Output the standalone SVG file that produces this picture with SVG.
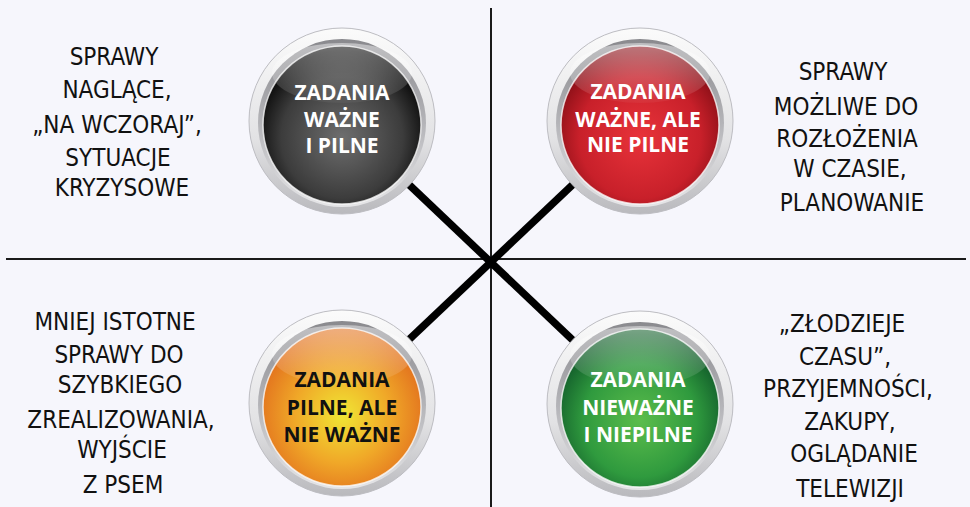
<svg xmlns="http://www.w3.org/2000/svg" width="970" height="507" viewBox="0 0 970 507">
<style>
.axis{stroke:#1a1a1a;stroke-width:2;fill:none}
.arm{stroke:#000;stroke-width:7.5;fill:none}
.ring{fill:url(#ringG);stroke:#bdbdc2;stroke-width:1}
.groove{fill:url(#grooveG)}
.rim{stroke:#ffffff;stroke-opacity:0.75;stroke-width:1.5}
.gloss{fill:url(#glossG)}
.btn{font-family:"Open Sans","DejaVu Sans",sans-serif;font-weight:700;font-size:21px;text-anchor:middle}
.w{fill:#ffffff}
.k{fill:#111111}
.hand{font-family:"DejaVu Sans Condensed","DejaVu Sans",sans-serif;font-size:24px;text-anchor:middle;fill:#111111}
</style>
<defs>
<linearGradient id="ringG" x1="0" y1="0" x2="0" y2="1">
<stop offset="0" stop-color="#fbfbfb"/>
<stop offset="0.6" stop-color="#e2e2e4"/>
<stop offset="1" stop-color="#b9b9bd"/>
</linearGradient>
<linearGradient id="grooveG" x1="0" y1="0" x2="0" y2="1">
<stop offset="0" stop-color="#8a8a8e"/>
<stop offset="0.5" stop-color="#b4b4b8"/>
<stop offset="1" stop-color="#e6e6e8"/>
</linearGradient>
<linearGradient id="glossG" x1="0" y1="0" x2="0" y2="1">
<stop offset="0" stop-color="#ffffff" stop-opacity="0.45"/>
<stop offset="1" stop-color="#ffffff" stop-opacity="0.04"/>
</linearGradient>
<radialGradient id="darkG" cx="0.5" cy="0.58" r="0.55">
<stop offset="0" stop-color="#6e6e6e"/>
<stop offset="0.7" stop-color="#3c3c3c"/>
<stop offset="1" stop-color="#0c0c0c"/>
</radialGradient>
<radialGradient id="redG" cx="0.5" cy="0.58" r="0.55">
<stop offset="0" stop-color="#e8333a"/>
<stop offset="0.7" stop-color="#c8202a"/>
<stop offset="1" stop-color="#8e1018"/>
</radialGradient>
<radialGradient id="orangeG" cx="0.5" cy="0.55" r="0.55">
<stop offset="0" stop-color="#f0e634"/>
<stop offset="0.55" stop-color="#f0a828"/>
<stop offset="1" stop-color="#e2701e"/>
</radialGradient>
<radialGradient id="greenG" cx="0.5" cy="0.58" r="0.55">
<stop offset="0" stop-color="#5cbd4c"/>
<stop offset="0.65" stop-color="#2f9a3e"/>
<stop offset="1" stop-color="#14612c"/>
</radialGradient>
</defs>
<rect width="970" height="507" fill="#f6f6fc"/>
<g id="connectors">
<line class="axis" x1="491" y1="8" x2="491" y2="507"/>
<line class="axis" x1="6" y1="259" x2="966" y2="259"/>
<line class="arm" x1="342" y1="121" x2="640" y2="404"/>
<line class="arm" x1="640" y1="121" x2="342" y2="403"/>
</g>
<g id="node-dark">
<circle class="ring" cx="342" cy="121" r="93"/>
<circle class="groove" cx="342" cy="123" r="84"/>
<circle class="rim" cx="342" cy="125" r="79" fill="url(#darkG)"/>
<ellipse class="gloss" cx="342" cy="73" rx="70" ry="30"/>
<text class="btn w" x="342" y="100">ZADANIA</text>
<text class="btn w" x="342" y="127">WAŻNE</text>
<text class="btn w" x="342" y="153">I PILNE</text>
</g>
<g id="node-red">
<circle class="ring" cx="640" cy="121" r="93"/>
<circle class="groove" cx="640" cy="123" r="84"/>
<circle class="rim" cx="640" cy="125" r="79" fill="url(#redG)"/>
<ellipse class="gloss" cx="640" cy="73" rx="70" ry="30"/>
<text class="btn w" x="638" y="99">ZADANIA</text>
<text class="btn w" x="638" y="127">WAŻNE, ALE</text>
<text class="btn w" x="638" y="152">NIE PILNE</text>
</g>
<g id="node-orange">
<circle class="ring" cx="342" cy="403" r="93"/>
<circle class="groove" cx="342" cy="405" r="84"/>
<circle class="rim" cx="342" cy="407" r="79" fill="url(#orangeG)"/>
<ellipse class="gloss" cx="342" cy="355" rx="70" ry="30"/>
<text class="btn k" x="342" y="387">ZADANIA</text>
<text class="btn k" x="342" y="415">PILNE, ALE</text>
<text class="btn k" x="342" y="442">NIE WAŻNE</text>
</g>
<g id="node-green">
<circle class="ring" cx="640" cy="404" r="93"/>
<circle class="groove" cx="640" cy="406" r="84"/>
<circle class="rim" cx="640" cy="408" r="79" fill="url(#greenG)"/>
<ellipse class="gloss" cx="640" cy="356" rx="70" ry="30"/>
<text class="btn w" x="638" y="387">ZADANIA</text>
<text class="btn w" x="638" y="415">NIEWAŻNE</text>
<text class="btn w" x="638" y="442">I NIEPILNE</text>
</g>
<g id="label-top-left">
<text class="hand" x="114" y="65">SPRAWY</text>
<text class="hand" x="117" y="98">NAGLĄCE,</text>
<text class="hand" x="117" y="133">„NA WCZORAJ”,</text>
<text class="hand" x="118" y="166">SYTUACJE</text>
<text class="hand" x="122" y="196">KRYZYSOWE</text>
</g>
<g id="label-top-right">
<text class="hand" x="843" y="80">SPRAWY</text>
<text class="hand" x="846" y="115">MOŻLIWE DO</text>
<text class="hand" x="847" y="147">ROZŁOŻENIA</text>
<text class="hand" x="850" y="177">W CZASIE,</text>
<text class="hand" x="852" y="211">PLANOWANIE</text>
</g>
<g id="label-bottom-left">
<text class="hand" x="115" y="330">MNIEJ ISTOTNE</text>
<text class="hand" x="119" y="363">SPRAWY DO</text>
<text class="hand" x="120" y="393">SZYBKIEGO</text>
<text class="hand" x="121" y="428">ZREALIZOWANIA,</text>
<text class="hand" x="122" y="458">WYJŚCIE</text>
<text class="hand" x="123" y="493">Z PSEM</text>
</g>
<g id="label-bottom-right">
<text class="hand" x="842" y="332">„ZŁODZIEJE</text>
<text class="hand" x="845" y="365">CZASU”,</text>
<text class="hand" x="848" y="397">PRZYJEMNOŚCI,</text>
<text class="hand" x="850" y="430">ZAKUPY,</text>
<text class="hand" x="854" y="462">OGLĄDANIE</text>
<text class="hand" x="850" y="497">TELEWIZJI</text>
</g>
</svg>
